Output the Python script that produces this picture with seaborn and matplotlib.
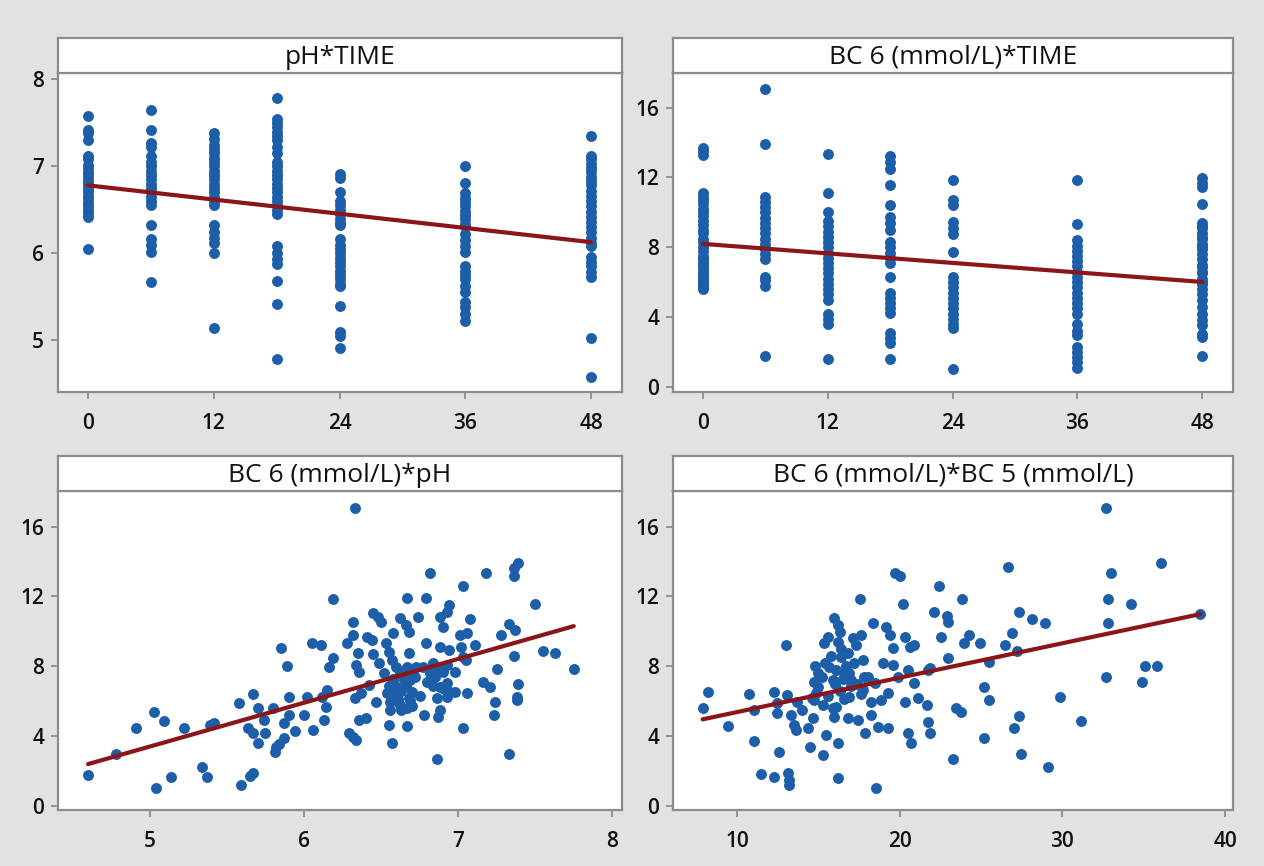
import matplotlib
matplotlib.use("Agg")
import matplotlib.pyplot as plt
import pandas as pd
import seaborn as sns

# ---- data ----
# pH measured at each sampling time (h)
ph_t00 = [7.58, 7.42, 7.38, 7.30, 7.12, 7.08, 7.02, 6.98, 6.94, 6.90, 6.86, 6.82, 6.78, 6.74,
          6.70, 6.66, 6.62, 6.58, 6.54, 6.50, 6.46, 6.42, 6.05]
ph_t06 = [7.65, 7.42, 7.27, 7.22, 7.12, 7.05, 7.00, 6.95, 6.90, 6.85, 6.80, 6.75, 6.70, 6.65,
          6.60, 6.55, 6.33, 6.16, 6.10, 6.02, 5.67]
ph_t12 = [7.38, 7.32, 7.25, 7.20, 7.15, 7.10, 7.05, 7.00, 6.95, 6.90, 6.85, 6.80, 6.75, 6.70,
          6.65, 6.60, 6.55, 6.33, 6.25, 6.18, 6.12, 6.00, 5.14]
ph_t18 = [7.79, 7.55, 7.50, 7.45, 7.40, 7.35, 7.30, 7.22, 7.15, 7.05, 7.00, 6.95, 6.90, 6.85,
          6.80, 6.75, 6.70, 6.65, 6.60, 6.55, 6.50, 6.45, 6.08, 6.00, 5.93, 5.88, 5.68, 5.42, 4.79]
ph_t24 = [6.91, 6.87, 6.70, 6.60, 6.55, 6.50, 6.45, 6.40, 6.35, 6.32, 6.17, 6.10, 6.05, 6.00,
          5.95, 5.90, 5.85, 5.80, 5.75, 5.70, 5.65, 5.62, 5.39, 5.10, 5.05, 4.91]
ph_t36 = [7.00, 6.81, 6.69, 6.64, 6.59, 6.54, 6.49, 6.44, 6.39, 6.34, 6.31, 6.22, 6.15, 6.08,
          6.02, 5.85, 5.80, 5.75, 5.70, 5.62, 5.55, 5.44, 5.38, 5.30, 5.22]
ph_t48 = [7.35, 7.12, 7.08, 7.03, 6.98, 6.93, 6.88, 6.83, 6.78, 6.72, 6.66, 6.60, 6.54, 6.48,
          6.42, 6.36, 6.30, 6.24, 6.18, 6.12, 6.08, 5.96, 5.90, 5.85, 5.78, 5.73, 5.03, 4.58]

# BC 6 (mmol/L) at each sampling time (h)
bc6_t00 = [13.7, 13.5, 13.3, 11.1, 10.9, 10.7, 10.5, 10.2, 10.0, 9.8, 9.5, 9.3, 9.0, 8.8,
           8.5, 8.3, 8.0, 7.8, 7.5, 7.4, 7.3, 7.1, 7.0, 6.8, 6.6, 6.5, 6.4, 6.3, 6.1, 6.0,
           5.9, 5.8, 5.7, 5.6]
bc6_t06 = [17.05, 13.9, 10.9, 10.6, 10.3, 10.0, 9.7, 9.4, 9.1, 8.8, 8.5, 8.2, 7.9, 7.6,
           7.3, 6.3, 6.1, 5.8, 1.75]
bc6_t12 = [13.35, 11.1, 10.0, 9.5, 9.2, 8.9, 8.6, 8.3, 8.0, 7.7, 7.4, 7.1, 6.8, 6.5,
           6.2, 5.9, 5.6, 5.3, 5.0, 4.2, 3.9, 3.6, 1.6]
bc6_t18 = [13.2, 12.9, 12.5, 11.55, 10.4, 9.75, 9.4, 9.0, 8.3, 8.0, 7.7, 7.4, 7.1, 6.3,
           5.4, 5.1, 4.8, 4.5, 4.25, 3.1, 2.8, 2.5, 1.6]
bc6_t24 = [11.85, 10.7, 10.4, 9.45, 9.1, 8.75, 7.75, 6.3, 6.0, 5.7, 5.4, 5.1, 4.8, 4.5,
           4.2, 3.9, 3.6, 3.4, 1.05]
bc6_t36 = [11.85, 9.35, 8.4, 8.1, 7.8, 7.5, 7.2, 6.9, 6.6, 6.3, 6.0, 5.7, 5.4, 5.1,
           4.8, 4.5, 4.2, 3.6, 3.2, 2.95, 2.3, 2.0, 1.7, 1.4, 1.1]
bc6_t48 = [11.95, 11.7, 11.45, 10.5, 9.4, 9.2, 9.1, 8.8, 8.6, 8.5, 8.2, 8.0, 7.9, 7.6,
           7.3, 7.0, 6.85, 6.6, 6.5, 6.2, 6.0, 5.9, 5.6, 5.3, 5.0, 4.6, 4.2, 3.85, 3.55,
           3.05, 2.85, 1.75]

# BC 6 vs pH scatter
ph_x = [4.60, 4.78, 4.91, 5.03, 5.09, 5.04, 5.14, 5.22, 5.34, 5.37, 5.39, 5.42, 5.58, 5.59,
        5.65, 5.67, 5.67, 5.64, 5.67, 5.70, 5.70, 5.74, 5.75, 5.80, 5.81, 5.82, 5.84, 5.85,
        5.87, 5.87, 5.90, 5.90, 5.89, 5.94, 6.00, 6.05, 6.02, 6.06, 6.11, 6.12, 6.13, 6.14,
        6.15, 6.16, 6.19, 6.19,
        6.33, 7.39, 7.36, 7.36, 6.82, 7.18, 7.03, 6.67, 6.79, 6.94, 6.93, 7.50, 6.45, 6.48,
        6.50, 6.62, 6.66, 6.68, 6.74, 6.88, 6.90, 7.08, 6.32, 7.33, 7.37, 7.28, 7.01, 7.06,
        6.32, 6.28, 6.41, 6.44, 6.53, 6.58, 6.79, 6.88, 6.94, 7.02, 7.11, 6.35, 6.55, 6.57,
        6.68, 6.34, 6.36, 6.49, 6.60, 6.67, 6.73, 6.77, 6.84, 6.93, 7.03, 7.05, 6.98, 7.55,
        7.63, 7.75, 7.36, 7.25, 6.62, 6.65, 6.58, 6.69, 6.80, 6.85, 6.88, 6.93, 6.42, 6.37,
        6.33, 6.47, 6.54, 6.56, 6.60, 6.56, 6.63, 6.69, 6.67, 6.86, 6.93, 6.98, 7.06, 7.16,
        7.21, 7.39, 7.38, 7.38, 7.24, 6.55, 6.57, 6.67, 6.78, 6.87, 6.88, 7.03, 7.23, 6.34,
        6.29, 6.32, 6.36, 6.40, 6.86, 7.33,
        6.60, 6.63, 6.66, 6.70, 6.72, 6.64, 6.58, 6.75, 6.62, 6.70, 6.55, 6.82, 6.90, 6.95,
        6.52, 6.45, 6.61, 6.68, 6.59, 6.65, 6.71, 6.86, 6.91, 6.84]
bc6_ph = [1.77, 2.98, 4.45, 5.36, 4.89, 1.01, 1.68, 4.45, 2.25, 1.68, 4.64, 4.73, 5.92, 1.20,
          1.72, 1.87, 6.39, 4.45, 4.16, 5.59, 3.59, 4.92, 4.16, 5.63, 3.11, 3.40, 3.53, 9.03,
          3.87, 4.77, 5.21, 6.26, 8.02, 4.31, 5.21, 9.35, 6.26, 4.35, 9.22, 6.22, 4.92, 5.69,
          6.64, 7.98, 8.45, 11.85,
          17.04, 13.93, 13.61, 13.17, 13.36, 13.36, 12.60, 11.90, 11.90, 11.50, 11.13, 11.56, 11.03, 10.84,
          10.55, 10.74, 10.36, 9.98, 10.84, 10.84, 10.27, 10.69, 10.55, 10.42, 10.08, 9.79, 9.79, 9.89,
          9.79, 9.35, 9.69, 9.50, 9.31, 9.92, 9.35, 9.12, 8.93, 9.12, 9.22, 8.74, 8.84, 8.36,
          8.74, 8.07, 7.69, 8.21, 7.98, 7.98, 7.98, 7.98, 8.21, 8.07, 8.55, 8.36, 7.69, 8.89,
          8.74, 7.84, 8.61, 7.84, 7.60, 7.21, 7.02, 7.21, 7.12, 7.40, 6.83, 7.02, 6.93, 6.45,
          6.16, 5.97, 6.45, 5.97, 6.35, 5.50, 5.50, 6.07, 5.59, 6.16, 6.26, 6.55, 6.45, 7.12,
          6.83, 6.98, 6.26, 6.07, 5.97, 4.64, 3.59, 4.58, 5.21, 5.11, 5.50, 4.45, 5.21, 3.78,
          4.16, 3.97, 4.92, 5.02, 2.67, 2.96,
          6.80, 6.60, 6.90, 6.50, 7.40, 7.70, 7.30, 6.30, 5.80, 5.70, 6.90, 7.60, 7.70, 6.50,
          7.60, 8.70, 6.10, 6.20, 6.60, 7.50, 7.80, 7.90, 6.70, 6.90]

# BC 6 vs BC 5 scatter
bc5_x = [7.88, 8.19, 9.44, 10.72, 11.03, 11.03, 11.44, 12.27, 12.58, 12.99, 13.15, 13.20, 13.20, 12.27,
         12.47, 12.43, 13.09, 13.30, 13.51, 13.61, 13.71, 14.02, 14.33, 14.49, 14.64, 14.74, 14.85, 14.74,
         14.95, 15.26, 15.46, 15.36, 15.57, 15.67, 15.88, 15.98, 16.19, 16.35, 15.98, 16.08, 16.19, 16.19,
         16.39, 16.60, 16.80, 16.91, 17.01, 17.32, 17.53, 17.63, 17.73, 17.73, 16.80, 17.42, 17.86, 18.04,
         18.25, 18.35, 18.25, 18.45, 18.56, 18.66, 18.87, 18.97, 19.18, 19.28, 19.28, 19.38, 19.59, 19.59,
         19.69, 20.00, 19.90, 20.21, 20.31, 20.62, 20.52, 20.31, 20.52, 20.72, 20.89, 20.89, 21.13, 21.65,
         21.71, 21.75, 21.86, 21.86, 22.12, 22.43, 22.54, 22.99,
         32.69, 36.06, 32.96, 26.63, 23.82, 32.82, 34.22, 27.35, 28.16, 28.92, 38.47, 32.82, 22.92, 22.96,
         24.24, 23.98, 24.94, 26.90, 26.47, 27.20, 25.51, 32.69, 35.10, 35.82, 34.90, 25.20, 25.51, 29.84,
         23.47, 23.78, 27.31, 31.12, 27.04, 25.16, 27.45, 23.27, 29.14,
         15.0, 15.2, 15.4, 15.6, 15.8, 16.0, 16.1, 16.3, 16.4, 16.5, 16.6, 16.7, 16.9, 17.0,
         17.2, 17.4, 17.6, 15.3, 15.9, 14.6, 14.8, 16.2, 17.1, 17.8]
bc6_bc5 = [5.63, 6.55, 4.60, 6.39, 5.50, 3.72, 1.81, 1.68, 3.11, 9.22, 1.87, 1.49, 1.20, 6.55,
           5.88, 5.31, 6.35, 5.21, 4.64, 4.35, 5.97, 5.50, 4.45, 3.40, 5.02, 7.12, 6.45, 6.07,
           7.60, 2.92, 4.06, 9.31, 9.69, 7.98, 7.21, 10.74, 10.36, 9.98, 5.11, 5.69, 3.59, 1.62,
           8.55, 7.60, 8.74, 6.26, 7.21, 9.22, 11.85, 9.79, 8.36, 6.64, 5.02, 4.92, 4.16, 7.40,
           5.97, 10.46, 5.21, 7.02, 1.01, 4.54, 6.07, 8.17, 10.27, 4.45, 6.45, 9.79, 9.03, 8.07,
           13.36, 13.17, 7.40, 11.56, 9.69, 9.12, 7.79, 5.97, 4.16, 3.59, 9.22, 7.02, 6.16, 5.78,
           7.79, 4.83, 4.16, 7.88, 11.13, 12.60, 9.69, 8.45,
           17.04, 13.93, 13.36, 13.66, 11.85, 11.85, 11.56, 11.13, 10.69, 10.50, 10.97, 10.50, 10.88, 10.55,
           9.79, 9.31, 9.31, 9.92, 9.22, 8.89, 8.26, 7.40, 8.02, 8.02, 7.12, 6.83, 6.07, 6.22,
           5.59, 5.40, 5.17, 4.89, 4.45, 3.87, 2.98, 2.67, 2.25,
           6.8, 7.4, 8.2, 6.3, 8.6, 7.0, 7.8, 6.6, 9.0, 7.3, 6.1, 8.0, 7.6, 6.9,
           8.2, 7.0, 6.4, 5.8, 5.6, 6.2, 8.0, 9.4, 9.6, 7.4]

times = [0, 6, 12, 18, 24, 36, 48]
ph_groups = [ph_t00, ph_t06, ph_t12, ph_t18, ph_t24, ph_t36, ph_t48]
bc6_groups = [bc6_t00, bc6_t06, bc6_t12, bc6_t18, bc6_t24, bc6_t36, bc6_t48]

df_ph = pd.DataFrame({"TIME": [t for t, g in zip(times, ph_groups) for _ in g],
                      "pH": [v for g in ph_groups for v in g]})
df_bc6 = pd.DataFrame({"TIME": [t for t, g in zip(times, bc6_groups) for _ in g],
                       "BC6": [v for g in bc6_groups for v in g]})
df_ph_bc6 = pd.DataFrame({"pH": ph_x, "BC6": bc6_ph})
df_bc5_bc6 = pd.DataFrame({"BC5": bc5_x, "BC6": bc6_bc5})

# ---- style ----
BG = "#e2e2e2"
SPINE = "#8c8c8c"
DOT = "#1d5ea8"
LINE = "#8b1518"

sns.set_style("white")
plt.rcParams["font.family"] = ["Open Sans", "Noto Sans", "DejaVu Sans"]

fig = plt.figure(figsize=(12.64, 8.66), dpi=100, facecolor=BG)
W, H = 1264, 866


def panel(px_left, px_right, px_top, px_bottom, strip_top, data, x, y, title,
          xlim, ylim, xticks, yticks):
    ax = fig.add_axes([px_left / W, 1 - px_bottom / H,
                       (px_right - px_left) / W, (px_bottom - px_top) / H])
    sns.regplot(data=data, x=x, y=y, ax=ax, ci=None, truncate=True,
                scatter_kws=dict(s=62, color=DOT, alpha=1, linewidths=0),
                line_kws=dict(color=LINE, lw=3.0))
    ax.set_facecolor("white")
    ax.set_xlim(xlim)
    ax.set_ylim(ylim)
    ax.set_xticks(xticks)
    ax.set_yticks(yticks)
    ax.set_xlabel("")
    ax.set_ylabel("")
    for sp in ax.spines.values():
        sp.set_color(SPINE)
        sp.set_linewidth(1.6)
    ax.tick_params(direction="out", length=5, width=1.3, color=SPINE,
                   labelsize=15, labelcolor="#111111", bottom=True, left=True)
    ax.tick_params(axis="x", pad=10)
    ax.tick_params(axis="y", pad=5)
    for lab in ax.get_xticklabels() + ax.get_yticklabels():
        lab.set_fontweight("semibold")

    # title strip above the data area
    tax = fig.add_axes([px_left / W, 1 - px_top / H,
                        (px_right - px_left) / W, (px_top - strip_top) / H])
    tax.set_facecolor("white")
    tax.set_xticks([])
    tax.set_yticks([])
    for sp in tax.spines.values():
        sp.set_color(SPINE)
        sp.set_linewidth(1.6)
    tax.text(0.5, 0.45, title, ha="center", va="center", fontsize=19, color="#111111",
             transform=tax.transAxes)
    return ax


panel(58, 622, 72.7, 392, 38.3, df_ph, "TIME", "pH", "pH*TIME",
      (-2.87, 50.95), (4.405, 8.077), [0, 12, 24, 36, 48], [5, 6, 7, 8])
panel(673, 1233, 72.7, 392, 38.3, df_bc6, "TIME", "BC6", "BC 6 (mmol/L)*TIME",
      (-2.87, 50.95), (-0.29, 18.0), [0, 12, 24, 36, 48], [0, 4, 8, 12, 16])
panel(58, 622, 491, 810, 456, df_ph_bc6, "pH", "BC6", "BC 6 (mmol/L)*pH",
      (4.405, 8.063), (-0.23, 18.04), [5, 6, 7, 8], [0, 4, 8, 12, 16])
panel(673, 1233, 491, 810, 456, df_bc5_bc6, "BC5", "BC6", "BC 6 (mmol/L)*BC 5 (mmol/L)",
      (6.06, 40.49), (-0.23, 18.04), [10, 20, 30, 40], [0, 4, 8, 12, 16])

fig.savefig("out.png", dpi=100, facecolor=BG)
